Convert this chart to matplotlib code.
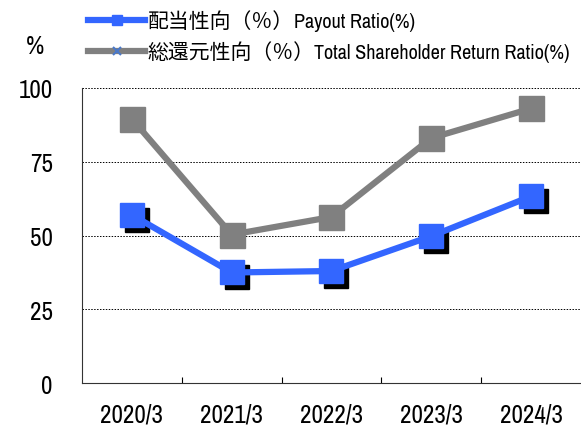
import matplotlib
matplotlib.use('Agg')
import matplotlib.pyplot as plt
from matplotlib.lines import Line2D
from matplotlib.transforms import offset_copy
from matplotlib.ticker import FixedLocator

years = ['2020/3', '2021/3', '2022/3', '2023/3', '2024/3']
payout = [57.0, 37.5, 38.0, 49.8, 63.3]
total_return = [89.5, 50.3, 56.3, 83.0, 93.0]
yticks = [0, 25, 50, 75, 100]

# legend labels: Japanese part and English part
labels_jp = ['配当性向（％）', '総還元性向（％）']
labels_en = ['Payout Ratio(%)', 'Total Shareholder Return Ratio(%)']

blue = '#3366ff'
gray = '#808080'
plt.rcParams['font.family'] = ['Archivo Narrow', 'Noto Sans CJK JP', 'DejaVu Sans']

fig = plt.figure(figsize=(5.81, 4.27), dpi=100)
ax = fig.add_axes([0.141, 0.1, 0.859, 0.692])
x = list(range(len(years)))

# black drop shadow under the blue markers
shadow = offset_copy(ax.transData, fig=fig, x=5, y=-5, units='dots')
ax.plot(x, payout, 's', color='black', ms=17, transform=shadow, zorder=2)

ax.plot(x, total_return, '-', color=gray, lw=4.5, marker='s', ms=18, mec=gray, zorder=3)
ax.plot(x, payout, '-', color=blue, lw=4.5, marker='s', ms=17, mec=blue, zorder=4)

ax.set_xlim(-0.5, len(years) - 0.5)
ax.set_ylim(0, 100)
ax.set_yticks(yticks)
ax.set_xticks(x)
ax.set_xticklabels(years)
ax.xaxis.set_minor_locator(FixedLocator([i + 0.5 for i in x[:-1]]))
ax.tick_params(axis='x', which='major', length=0, pad=14, labelsize=18)
ax.tick_params(axis='x', which='minor', direction='in', length=4, width=0.8)
ax.tick_params(axis='y', length=0, pad=21, labelsize=18)
for t in yticks[1:]:
    ax.axhline(t, color='black', lw=0.7, ls=(0, (1.5, 1.5)), zorder=1)

for s in ['top', 'right']:
    ax.spines[s].set_visible(False)
ax.spines['left'].set_color('#333333')
ax.spines['bottom'].set_color('#333333')

fig.text(35 / 581, 1 - 47 / 427, '%', fontsize=18, ha='center', va='center')

handles = [
    Line2D([], [], color=blue, lw=4.5, marker='s', ms=7, mfc=blue, mec=blue),
    Line2D([], [], color=gray, lw=4.5, marker='x', ms=6, mew=1.5, mfc=blue, mec='#4a78c8'),
]
leg = fig.legend(handles, labels_jp, loc='upper left',
                 bbox_to_anchor=(88 / 581, 1 - 11 / 427), frameon=False,
                 prop={'family': ['Noto Sans CJK JP'], 'size': 15},
                 handlelength=2.75, handletextpad=0.1,
                 labelspacing=0.45, borderaxespad=0, borderpad=0)

# append English part right after each Japanese label
fig.canvas.draw()
renderer = fig.canvas.get_renderer()
W, H = fig.bbox.width, fig.bbox.height
for txt, en in zip(leg.get_texts(), labels_en):
    bb = txt.get_window_extent(renderer)
    fig.text(bb.x1 / W, (bb.y0 + bb.y1) / 2 / H, en, family='Archivo Narrow',
             fontsize=14.5, ha='left', va='center')

fig.savefig('out.png', dpi=100)
